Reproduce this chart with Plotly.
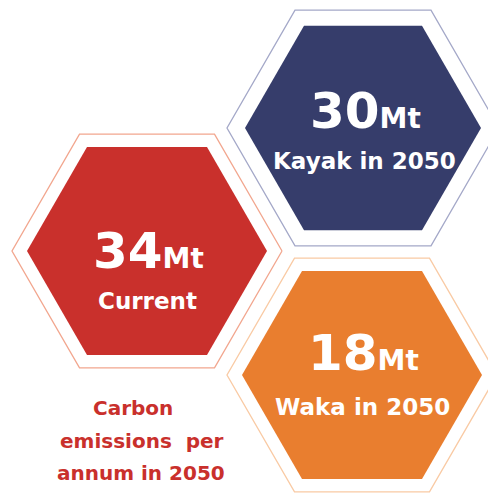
import numpy as np
import plotly.graph_objects as go

# values shown in the hexagons
values = [34, 30, 18]
units = ["Mt", "Mt", "Mt"]
labels = ["Current", "Kayak in 2050", "Waka in 2050"]
caption = ["Carbon", "emissions  per", "annum in 2050"]

# layout of the hexagons (pixel space)
centers = [(147, 251), (363, 128), (362, 375)]
inner_r = [120, 118, 120]
outer_r = [135, 136, 135]
fills = ["#c9302c", "#363d6b", "#e97e2f"]
edges = ["#f2a68e", "#a4a8c8", "#f9caa4"]
# text placement inside each hexagon: x centre, number anchor y, label anchor y
text_x = [148, 365, 363]
num_y = [282, 142, 384]
lab_y = [286, 146, 392]
cap_x = [133, 142, 141]
cap_y = [394, 427, 459]

W, H = 496, 498
PAD = 8  # the page body keeps an 8px margin, so the plot starts at 8,8


def hexagon(cx, cy, r):
    ang = np.radians(np.arange(0, 361, 60))
    return cx + r * np.cos(ang), cy + r * np.sin(ang)


fig = go.Figure()

# thin outer outlines first
for (cx, cy), r, c in zip(centers, outer_r, edges):
    x, y = hexagon(cx, cy, r)
    fig.add_scatter(x=x, y=y, mode="lines", line=dict(color=c, width=1.3),
                    hoverinfo="skip")

# solid hexagons
for (cx, cy), r, c in zip(centers, inner_r, fills):
    x, y = hexagon(cx, cy, r)
    fig.add_scatter(x=x, y=y, mode="lines", fill="toself", fillcolor=c,
                    line=dict(color=c, width=0), hoverinfo="skip")

font = "DejaVu Sans"
for tx, ny, ly, v, u, lab in zip(text_x, num_y, lab_y, values, units, labels):
    fig.add_annotation(
        x=tx, y=ny, xanchor="center", yanchor="bottom",
        text=f"<b>{v}</b><span style='font-size:28px'><b>{u}</b></span>",
        font=dict(family=font, size=50, color="white"),
        showarrow=False,
    )
    fig.add_annotation(
        x=tx - 1, y=ly, xanchor="center", yanchor="top",
        text=f"<b>{lab}</b>",
        font=dict(family=font, size=23, color="white"),
        showarrow=False,
    )

for cx, cy, t in zip(cap_x, cap_y, caption):
    fig.add_annotation(
        x=cx, y=cy, xanchor="center", yanchor="top",
        text=f"<b>{t}</b>",
        font=dict(family=font, size=20, color="#c9302c"),
        showarrow=False,
    )

fig.update_layout(
    width=W - PAD, height=H - PAD,
    margin=dict(l=0, r=0, t=0, b=0),
    paper_bgcolor="white", plot_bgcolor="white",
    showlegend=False,
    xaxis=dict(range=[PAD, W], visible=False, fixedrange=True),
    yaxis=dict(range=[H, PAD], visible=False, fixedrange=True),
)

fig.write_html("out.html")
